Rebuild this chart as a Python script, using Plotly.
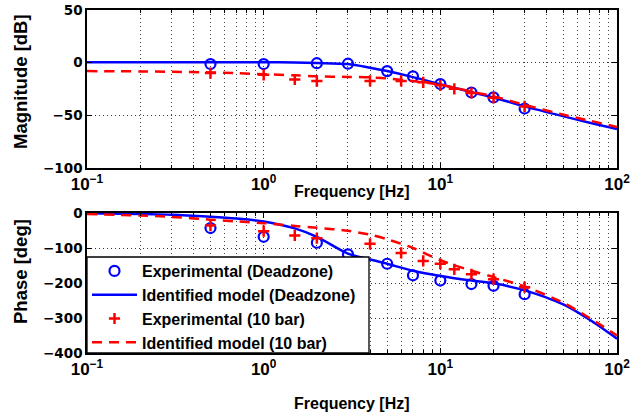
import plotly.graph_objects as go

# ---------------- data ----------------
f_exp_dz = [0.5, 1, 2, 3, 5, 7, 10, 15, 20, 30]
mag_exp_dz = [-1.3, -1.3, -0.5, -1.0, -8.0, -13.0, -20.3, -28.3, -33.0, -43.5]
ph_exp_dz = [-43, -68, -85, -118, -145, -178, -193, -203, -208, -232]

f_exp_10 = [0.5, 1, 1.5, 2, 4, 6, 8, 10, 12, 15, 20, 30]
mag_exp_10 = [-9.9, -11.5, -16, -17.5, -17.3, -17.3, -18.7, -21.5, -24.8, -28.8, -33.2, -41.5]
ph_exp_10 = [-36, -52, -64, -72, -88, -114, -137, -145, -161, -175, -189, -212]

f_model = [0.1, 0.2, 0.3, 0.5, 0.7, 1, 1.5, 2, 3, 4, 5, 7, 10, 15, 20, 30, 50, 70, 100]
mag_model_dz = [0.5, 0.5, 0.5, 0.5, 0.5, 0.4, 0.2, -0.3, -1.3, -4.8, -8, -13.7, -20.5, -28, -33, -41.5, -51, -57, -63]
ph_model_dz = [-1, -3, -5, -11, -16, -24, -44, -68, -116, -133, -145, -165, -180, -193, -201, -221, -262, -305, -359]
mag_model_10 = [-8, -8.3, -8.7, -9.3, -10, -11, -12, -13, -13.5, -14, -15, -17.5, -21, -27.5, -32, -40, -49.5, -55, -61]
ph_model_10 = [-3, -7, -11, -19, -24, -29, -37, -42, -51, -62, -75, -100, -135, -165, -183, -210, -257, -300, -350]

names = ["Experimental (Deadzone)", "Identified model (Deadzone)",
         "Experimental (10 bar)", "Identified model (10 bar)"]

x_tickvals = [0.1, 1, 10, 100]
x_ticktext = ["10<sup>\u22121</sup>", "10<sup>0</sup>", "10<sup>1</sup>", "10<sup>2</sup>"]
mag_ticks = [-100, -50, 0, 50]
ph_ticks = [-400, -300, -200, -100, 0]

BLUE = "#0000FF"
RED = "#FF0000"
FONT = "Liberation Sans, Arial, sans-serif"

fig = go.Figure()

def add_set(yaxis, xaxis, mdz, mexp_dz, m10, mexp_10, legend):
    fig.add_trace(go.Scatter(x=f_exp_dz, y=mexp_dz, mode="markers", name=names[0],
                             marker=dict(symbol="circle-open", size=10, color=BLUE, line=dict(width=2.2, color=BLUE)),
                             xaxis=xaxis, yaxis=yaxis, showlegend=legend, legendrank=1))
    fig.add_trace(go.Scatter(x=f_model, y=mdz, mode="lines", name=names[1],
                             line=dict(color=BLUE, width=2.5, shape="spline", smoothing=0.8),
                             xaxis=xaxis, yaxis=yaxis, showlegend=legend, legendrank=2))
    fig.add_trace(go.Scatter(x=f_exp_10, y=mexp_10, mode="markers", name=names[2],
                             marker=dict(symbol="cross-thin-open", size=8, color=RED, line=dict(width=2.5, color=RED)),
                             xaxis=xaxis, yaxis=yaxis, showlegend=legend, legendrank=3))
    fig.add_trace(go.Scatter(x=f_model, y=m10, mode="lines", name=names[3],
                             line=dict(color=RED, width=2.5, dash="10px,7px", shape="spline", smoothing=0.8),
                             xaxis=xaxis, yaxis=yaxis, showlegend=legend, legendrank=4))

add_set("y", "x", mag_model_dz, mag_exp_dz, mag_model_10, mag_exp_10, False)
add_set("y2", "x2", ph_model_dz, ph_exp_dz, ph_model_10, ph_exp_10, True)

minor_vals = [m * 10 ** k for k in (-1, 0, 1) for m in range(2, 10)]

GRID = dict(showgrid=True, gridcolor="#333333", griddash="1px,3px", gridwidth=1)

xaxis_common = dict(
    type="log", range=[-1, 2], tickvals=x_tickvals, ticktext=x_ticktext,
    showline=True, linecolor="black", linewidth=1.5, mirror="ticks",
    ticks="inside", ticklen=5, tickcolor="black", automargin=False,
    minor=dict(tickvals=minor_vals, ticks="inside", ticklen=3, tickcolor="black",
               showgrid=True, gridcolor="#444444", griddash="1px,3px", gridwidth=1),
    tickfont=dict(family=FONT, size=17, color="black", weight="bold"),
    zeroline=False, **GRID,
)
yaxis_common = dict(
    showline=True, linecolor="black", linewidth=1.5, mirror="ticks",
    ticks="inside", ticklen=5, tickcolor="black", automargin=False,
    tickfont=dict(family="DejaVu Sans, sans-serif", size=13.5, color="black", weight="bold"),
    zeroline=False, **GRID,
)

W, H = 631, 418
ml, mr, mt, mb = 87, 14, 10, 65
ph = H - mt - mb
pw = W - ml - mr

def py(pix):
    return (H - mb - pix) / ph

def px(pix):
    return (pix - ml) / pw

fig.update_layout(
    width=W, height=H, margin=dict(l=ml, r=mr, t=mt, b=mb),
    paper_bgcolor="white", plot_bgcolor="white",
    xaxis=dict(**xaxis_common, domain=[0, 1], anchor="y"),
    yaxis=dict(**yaxis_common, domain=[py(168), 1], range=[-100, 50], tickvals=mag_ticks, anchor="x"),
    xaxis2=dict(**xaxis_common, domain=[0, 1], anchor="y2"),
    yaxis2=dict(**yaxis_common, domain=[0, py(213)], range=[-400, 0], tickvals=ph_ticks, anchor="x2"),
    legend=dict(x=0, y=py(254), xanchor="left", yanchor="top", bgcolor="rgba(0,0,0,0)",
                borderwidth=0, itemwidth=45, tracegroupgap=0,
                font=dict(family=FONT, size=16, color="black", weight="bold")),
    showlegend=True,
)

# legend box (white, black border) drawn below the legend entries
fig.add_shape(type="rect", xref="paper", yref="paper", x0=0, x1=px(369), y0=0, y1=py(257),
              fillcolor="white", line=dict(color="black", width=1.3), layer="above")

title_font = dict(family=FONT, size=16, color="black", weight="bold")
fig.add_annotation(text="Frequency [Hz]", xref="paper", yref="paper", x=0.5, y=py(191),
                   xanchor="center", yanchor="middle", showarrow=False, font=title_font)
fig.add_annotation(text="Frequency [Hz]", xref="paper", yref="paper", x=0.5, y=py(403),
                   xanchor="center", yanchor="middle", showarrow=False, font=title_font)
yt_font = dict(family=FONT, size=18.5, color="black", weight="bold")
fig.add_annotation(text="Magnitude [dB]", xref="paper", yref="paper", x=px(20), y=py(82),
                   xanchor="center", yanchor="middle", textangle=-90, showarrow=False, font=yt_font)
fig.add_annotation(text="Phase [deg]", xref="paper", yref="paper", x=px(20), y=py(272),
                   xanchor="center", yanchor="middle", textangle=-90, showarrow=False, font=yt_font)

fig.write_html("out.html")
